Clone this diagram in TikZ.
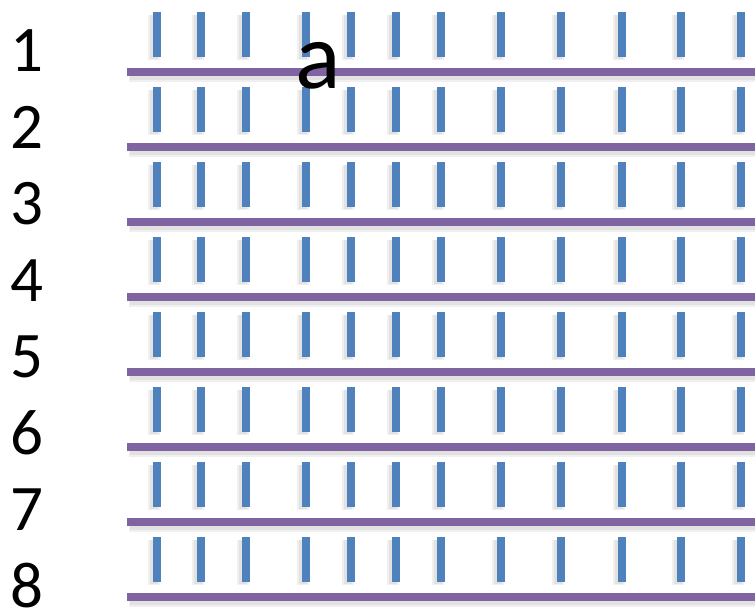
\documentclass[tikz,border=0pt]{standalone}
\usepackage{fontspec}
\setmainfont{Carlito}
\usepackage{xcolor}
\definecolor{RowPurple}{HTML}{8064A2}
\definecolor{BarBlue}{HTML}{4F81BD}
\usetikzlibrary{calc}

\tikzset{
  rowline/.style={RowPurple, line width=4pt},
  rowshade/.style={black, opacity=0.06, line width=#1},
  tick/.style={BarBlue, line width=4.5pt},
  tickshade/.style={black, opacity=0.06, line width=#1},
  rownum/.style={font=\fontsize{37}{40}\selectfont, inner sep=0pt},
}

\begin{document}
\begin{tikzpicture}[x=0.02cm, y=-0.02cm]
    \useasboundingbox (0,0) rectangle (755,613);
    % Row lines
    \foreach \k in {1,...,8} {
      \pgfmathsetmacro{\ly}{72+75*(\k-1)}
      \draw[rowshade=6.5pt] (129,\ly+4) -- (755,\ly+4);
      \draw[rowshade=4pt] (130,\ly+4) -- (755,\ly+4);
      \draw[rowline] (127,\ly) -- (755,\ly);
    }
    % Ticks
    \foreach \k in {1,...,8} {
      \pgfmathsetmacro{\ty}{12+75*(\k-1)}
      \foreach \x in {157,201,246,306,351,396,441,501,561,622,681,741} {
        \draw[tickshade=7pt] (\x-3,\ty+3) -- (\x-3,\ty+48);
        \draw[tickshade=4.5pt] (\x-3,\ty+3) -- (\x-3,\ty+47);
        \draw[tick] (\x,\ty) -- (\x,\ty+45);
      }
    }
    % Labels
    \foreach \k in {1,...,8}
      \node[rownum] (num\k) at (27,51+76.4*\k-76.4) {\k};
    \node[font=\fontsize{54}{56}\selectfont, inner sep=0pt] (mark) at (318,66) {a};
  \end{tikzpicture}
\end{document}
